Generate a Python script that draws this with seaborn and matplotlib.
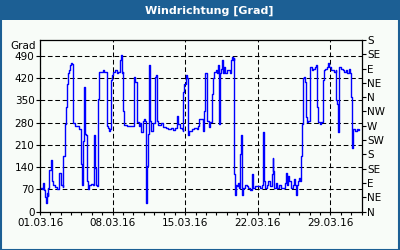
import numpy as np
import pandas as pd
import matplotlib
matplotlib.use("Agg")
import matplotlib.pyplot as plt
import matplotlib.dates as mdates
from matplotlib.patches import Rectangle
import seaborn as sns

# ---- data (day offset from 01.03.2016, wind direction in degrees, unwrapped) ----
day_offsets = [
    0.00, 0.16, 0.32, 0.42, 0.48, 0.55, 0.64, 0.74, 0.80, 0.90, 1.03, 1.13, 1.29, 1.45, 1.61, 1.77,
    1.86, 1.99, 2.09, 2.19, 2.25, 2.41, 2.48, 2.57, 2.64, 2.73, 2.83, 2.93, 3.02, 3.12, 3.15, 3.38,
    3.60, 3.79, 3.92, 3.99, 4.02, 4.12, 4.24, 4.34, 4.44, 4.53, 4.63, 4.76, 4.92, 5.08, 5.21, 5.31,
    5.40, 5.53, 5.63, 5.72, 5.88, 6.05, 6.21, 6.37, 6.43, 6.56, 6.69, 6.78, 6.82, 6.91, 7.07, 7.23,
    7.40, 7.56, 7.72, 7.81, 7.88, 7.97, 8.04, 8.14, 8.36, 8.68, 9.00, 9.10, 9.20, 9.32, 9.52, 9.65,
    9.74, 9.90, 10.03, 10.13, 10.23, 10.29, 10.39, 10.51, 10.61, 10.71, 10.87, 11.09, 11.19, 11.25,
    11.41, 11.64, 11.90, 12.15, 12.38, 12.64, 12.86, 13.02, 13.18, 13.34, 13.50, 13.67, 13.76, 13.83,
    13.92, 14.05, 14.15, 14.24, 14.34, 14.41, 14.63, 14.89, 15.11, 15.21, 15.37, 15.69, 15.82, 15.91,
    16.07, 16.14, 16.30, 16.39, 16.55, 16.65, 16.78, 16.97, 17.10, 17.20, 17.29, 17.36, 17.46, 17.55,
    17.68, 17.78, 17.87, 18.00, 18.16, 18.32, 18.42, 18.55, 18.65, 18.71, 18.74, 18.84, 18.90, 19.03,
    19.13, 19.22, 19.29, 19.38, 19.45, 19.51, 19.61, 19.77, 19.93, 20.09, 20.25, 20.41, 20.51, 20.74,
    20.90, 21.06, 21.22, 21.38, 21.54, 21.60, 21.70, 21.86, 22.02, 22.18, 22.34, 22.44, 22.50, 22.60,
    22.76, 22.89, 23.08, 23.24, 23.47, 23.63, 23.73, 23.85, 23.95, 24.05, 24.21, 24.37, 24.50, 24.59,
    24.69, 24.75, 24.92, 25.01, 25.08, 25.17, 25.27, 25.40, 25.49, 25.56, 25.65, 25.75, 25.88, 26.04,
    26.20, 26.36, 26.52, 26.62, 26.75, 26.84, 27.00, 27.10, 27.26, 27.39, 27.49, 27.65, 27.81, 27.91,
    28.03, 28.20, 28.36, 28.52, 28.55, 28.65, 28.74, 28.84, 29.00, 29.19, 29.35, 29.51, 29.64, 29.80,
    29.90, 29.99, 30.06, 30.12, 30.22, 30.38, 30.54, 30.70, 30.77,
]
direction_deg = [
    74, 70, 90, 68, 45, 26, 58, 48, 74, 130, 162, 95, 85, 78, 70, 72,
    122, 85, 82, 78, 175, 275, 330, 390, 400, 435, 445, 460, 467, 465, 280, 270,
    268, 260, 245, 150, 85, 222, 392, 245, 240, 95, 70, 85, 88, 85, 240, 138,
    85, 80, 355, 440, 440, 445, 440, 440, 270, 262, 252, 260, 413, 430, 440, 445,
    435, 440, 477, 493, 435, 440, 318, 272, 270, 270, 268, 424, 408, 281, 268, 280,
    250, 286, 292, 285, 26, 143, 245, 461, 286, 255, 280, 424, 430, 286,
    272, 278, 265, 262, 260, 262, 258, 262, 302, 275, 262, 260, 255, 376,
    403, 430, 419, 240, 250, 255, 260, 262, 260, 270, 292, 255, 318, 435,
    435, 286, 265, 281, 371, 419, 440, 445, 435, 461, 276, 435, 450, 477,
    435, 456, 435, 445, 445, 435, 477, 488, 477, 482, 117, 53, 85, 80,
    90, 74, 180, 240, 85, 53, 74, 85, 80, 74, 69, 117, 74, 80,
    80, 80, 74, 85, 249, 95, 74, 85, 95, 80, 117, 170, 127, 74,
    90, 74, 85, 74, 74, 90, 122, 85, 111, 95, 74, 85, 101, 85,
    53, 85, 95, 106, 95, 175, 276, 419, 424, 408, 297, 281, 286, 456,
    445, 450, 456, 461, 329, 281, 276, 281, 413, 445, 450, 456, 467, 456,
    445, 445, 440, 445, 350, 339, 249, 456, 450, 445, 440, 445, 435, 450,
    435, 361, 255, 200, 260, 255, 260, 258, 260,
]

left_ticks = [0, 70, 140, 210, 280, 350, 420, 490]
compass_ticks = [0, 45, 90, 135, 180, 225, 270, 315, 360, 405, 450, 495, 540]
compass_labels = ["N", "NE", "E", "SE", "S", "SW", "W", "NW", "N", "NE", "E", "SE", "S"]
date_ticks = ["2016-03-01", "2016-03-08", "2016-03-15", "2016-03-22", "2016-03-29"]

start = pd.Timestamp("2016-03-01")
df = pd.DataFrame({
    "time": start + pd.to_timedelta(day_offsets, unit="D"),
    "dir": direction_deg,
})

sns.set_theme(style="white")
plt.rcParams["font.family"] = ["DejaVu Sans"]

W, H = 400, 250
fig = plt.figure(figsize=(4, 2.5), dpi=100, facecolor="#f8fcf8")
ax = fig.add_axes([40 / W, 1 - 211.5 / H, (361.5 - 40) / W, (211.5 - 40) / H])
ax.set_facecolor("#f8fcf8")

sns.lineplot(data=df, x="time", y="dir", ax=ax, color="#0000ff", linewidth=1.0,
             drawstyle="steps-post", estimator=None, legend=False)

ax.set_xlim(start, pd.Timestamp("2016-04-01"))
ax.set_ylim(0, 540)
ax.set_xlabel("")
ax.set_ylabel("")

ax.set_yticks(left_ticks)
ax.set_yticklabels([str(v) for v in left_ticks])
major_dates = pd.to_datetime(date_ticks)
ax.set_xticks(major_dates)
ax.set_xticklabels([d.strftime("%d.%m.%y") for d in major_dates])
ax.xaxis.set_minor_locator(mdates.DayLocator())

grid_kw = dict(color="black", linewidth=0.75, linestyle=(0, (4.5, 2.6)))
ax.grid(True, axis="both", which="major", **grid_kw)

for s in ax.spines.values():
    s.set_color("black")
    s.set_linewidth(0.9)

ax.tick_params(axis="y", which="major", direction="out", length=3, width=0.8,
               color="black", labelsize=7.5, labelcolor="black", pad=1, left=True)
ax.tick_params(axis="x", which="major", direction="out", length=2.2, width=0.8,
               color="black", labelsize=7.5, labelcolor="black", pad=2.5, bottom=True)
ax.tick_params(axis="x", which="minor", direction="out", length=2.2, width=0.8,
               color="black", bottom=True)

ax2 = ax.twinx()
ax2.set_ylim(0, 540)
ax2.set_yticks(compass_ticks)
ax2.set_yticklabels(compass_labels)
ax2.grid(False)
for s in ax2.spines.values():
    s.set_visible(False)
ax2.tick_params(axis="y", which="major", direction="out", length=3, width=0.8,
                color="black", labelsize=7.5, labelcolor="black", pad=1, right=True)

fig.text(36 / W, 1 - 46 / H, "Grad", ha="right", va="center", fontsize=7.5, color="black")

# title bar and frame
fig.patches.append(Rectangle((0, 1 - 20 / H), 1, 20 / H, transform=fig.transFigure,
                             facecolor="#1c5f94", edgecolor="none", zorder=0))
fig.patches.append(Rectangle((0.5 / W, 0.5 / H), 1 - 1.5 / W, 1 - 1.5 / H, transform=fig.transFigure,
                             facecolor="none", edgecolor="#1c5f94", linewidth=1.5, zorder=5))
fig.text(209 / W, 1 - 10.5 / H, "Windrichtung [Grad]", ha="center", va="center",
         fontsize=8, fontweight="bold", color="white")

fig.savefig("out.png", dpi=100, facecolor=fig.get_facecolor())
